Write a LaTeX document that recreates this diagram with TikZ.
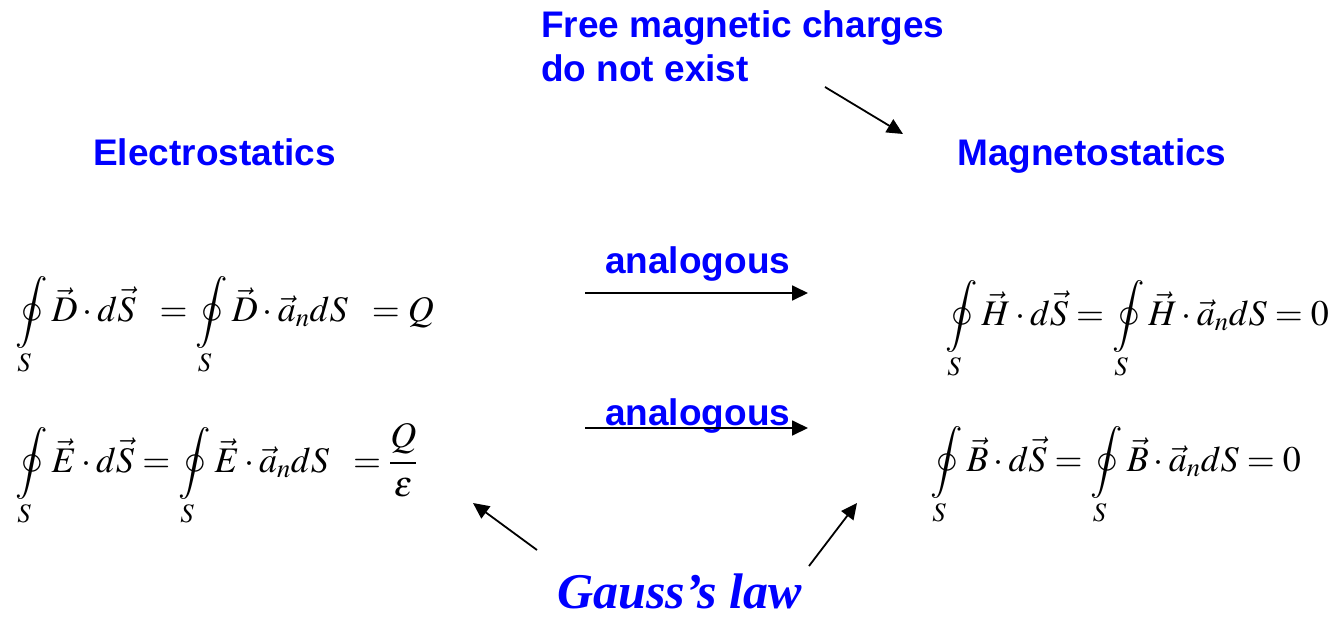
\documentclass[tikz,border=0pt]{standalone}
\usepackage{amsmath}
\usepackage{mathptmx}
\usepackage[no-math]{fontspec}
\setmainfont{Liberation Serif}
\newfontfamily\hdfont{Liberation Sans}
\usetikzlibrary{arrows.meta}
\tikzset{
  lbl/.style={font=\hdfont\bfseries\fontsize{37}{44}\selectfont, text=blue, inner sep=0pt, anchor=base west, align=left},
  eqn/.style={font=\fontsize{36}{42}\selectfont, inner sep=0pt, anchor=base west},
  arr/.style={-{Triangle[length=16pt,width=15pt]}, line width=1.8pt},
  gauss/.style={font=\rmfamily\bfseries\itshape\fontsize{50}{56}\selectfont, text=blue, inner sep=0pt, anchor=base west}
}
\begin{document}
\begin{tikzpicture}[x=1pt,y=-1pt]
\useasboundingbox (0,0) rectangle (1338,632);
\node[lbl] (free) at (541,81) {Free magnetic charges\\do not exist};
\node[lbl] (elec) at (93,165) {Electrostatics};
\node[lbl] (mag) at (957,165) {Magnetostatics};
\node[lbl] (an1) at (605,273) {analogous};
\node[lbl] (an2) at (605,425) {analogous};
\node[eqn] (eqD) at (15,321) {$\displaystyle \oint\limits_S \vec{D}\cdot d\vec{S}\;\; = \oint\limits_S \vec{D}\cdot\vec{a}_n dS\;\; = Q$};
\node[eqn] (eqE) at (15,472) {$\displaystyle \oint\limits_S \vec{E}\cdot d\vec{S} = \oint\limits_S \vec{E}\cdot\vec{a}_n dS\;\; = \frac{Q}{\varepsilon}$};
\node[eqn] (eqH) at (945,325) {$\displaystyle \oint\limits_S \vec{H}\cdot d\vec{S} = \oint\limits_S \vec{H}\cdot\vec{a}_n dS = 0$};
\node[eqn] (eqB) at (930,471) {$\displaystyle \oint\limits_S \vec{B}\cdot d\vec{S} = \oint\limits_S \vec{B}\cdot\vec{a}_n dS = 0$};
\node[gauss] (gl) at (557,608) {Gauss’s law};
\coordinate (f1) at (825,87);
\coordinate (f2) at (903,134);
\coordinate (a1s) at (585,293);
\coordinate (a1e) at (808,293);
\coordinate (a2s) at (585,428);
\coordinate (a2e) at (808,428);
\coordinate (g1s) at (537,550);
\coordinate (g1e) at (473,503);
\coordinate (g2s) at (809,566);
\coordinate (g2e) at (857,503);
\draw[arr] (f1) -- (f2);
\draw[arr] (a1s) -- (a1e);
\draw[arr] (a2s) -- (a2e);
\draw[arr] (g1s) -- (g1e);
\draw[arr] (g2s) -- (g2e);
\end{tikzpicture}
\end{document}
